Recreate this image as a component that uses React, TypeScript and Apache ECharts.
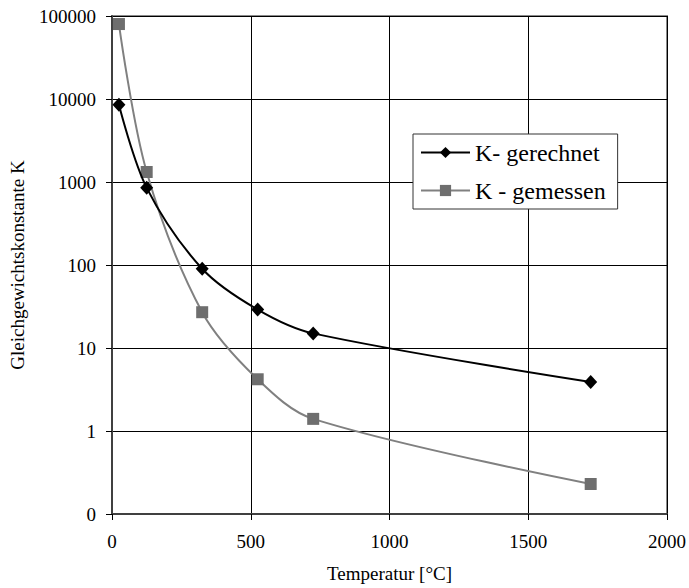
import React, { useEffect, useRef } from "react";
import * as echarts from "echarts";

const temperatures = [25, 125, 325, 525, 725, 1725];
const kGerechnet = [8500, 850, 90, 29, 15, 3.9];
const kGemessen = [80000, 1320, 27, 4.2, 1.4, 0.23];
const seriesNames = ["K- gerechnet", "K - gemessen"];
const xTitle = "Temperatur [°C]";
const yTitle = "Gleichgewichtskonstante K";

const FONT = "'Liberation Serif', 'Times New Roman', serif";

export default function App() {
  const ref = useRef<HTMLDivElement>(null);
  useEffect(() => {
    document.body.style.margin = "0";
    const chart = echarts.init(ref.current!, null, { renderer: "svg" });
    const toPairs = (ys: number[]) => temperatures.map((x, i) => [x, ys[i]]);
    chart.setOption({
      animation: false,
      backgroundColor: "#ffffff",
      textStyle: { fontFamily: FONT },
      grid: {
        left: 110,
        right: 22,
        top: 16,
        bottom: 74,
        show: true,
        borderColor: "#8a8a8a",
        borderWidth: 2,
      },
      legend: {
        left: 413,
        top: 134,
        orient: "vertical",
        data: seriesNames,
        backgroundColor: "#ffffff",
        borderColor: "#333333",
        borderWidth: 1,
        padding: [5, 12, 5, 7],
        itemWidth: 49,
        itemHeight: 14,
        itemGap: 11,
        textStyle: { fontFamily: FONT, fontSize: 24, color: "#000", lineHeight: 27 },
      },
      xAxis: {
        type: "value",
        min: 0,
        max: 2000,
        interval: 500,
        name: xTitle,
        nameLocation: "middle",
        nameGap: 50,
        nameTextStyle: { fontFamily: FONT, fontSize: 19, color: "#000" },
        axisLine: { show: true, lineStyle: { color: "#404040", width: 2 } },
        axisTick: { show: true, length: 6, lineStyle: { color: "#000", width: 1 } },
        axisLabel: {
          fontFamily: FONT,
          fontSize: 19,
          color: "#000",
          margin: 18,
          formatter: (v: number) => String(v),
        },
        splitLine: { show: true, lineStyle: { color: "#000", width: 1 } },
      },
      yAxis: {
        type: "log",
        logBase: 10,
        min: 0.1,
        max: 100000,
        name: yTitle,
        nameLocation: "middle",
        nameGap: 85,
        nameTextStyle: { fontFamily: FONT, fontSize: 19, color: "#000" },
        axisLine: { show: true, lineStyle: { color: "#404040", width: 2 } },
        axisTick: { show: true, length: 6, lineStyle: { color: "#000", width: 1 } },
        axisLabel: {
          fontFamily: FONT,
          fontSize: 19,
          color: "#000",
          margin: 16,
          formatter: (v: number) => (v < 1 ? "0" : String(Math.round(v))),
        },
        splitLine: { show: true, lineStyle: { color: "#000", width: 1 } },
      },
      series: [
        {
          name: seriesNames[0],
          type: "line",
          data: toPairs(kGerechnet),
          smooth: 0.33,
          symbol: "diamond",
          symbolSize: [13, 14],
          showAllSymbol: true,
          itemStyle: { color: "#000000" },
          lineStyle: { color: "#000000", width: 2 },
          z: 3,
        },
        {
          name: seriesNames[1],
          type: "line",
          data: toPairs(kGemessen),
          smooth: 0.33,
          symbol: "rect",
          symbolSize: 12,
          showAllSymbol: true,
          itemStyle: { color: "#6e6e6e" },
          lineStyle: { color: "#808080", width: 2 },
          z: 2,
        },
      ],
    });
    return () => chart.dispose();
  }, []);
  return (
    <div
      ref={ref}
      style={{ position: "fixed", left: 0, top: 0, width: 689, height: 588 }}
    />
  );
}
